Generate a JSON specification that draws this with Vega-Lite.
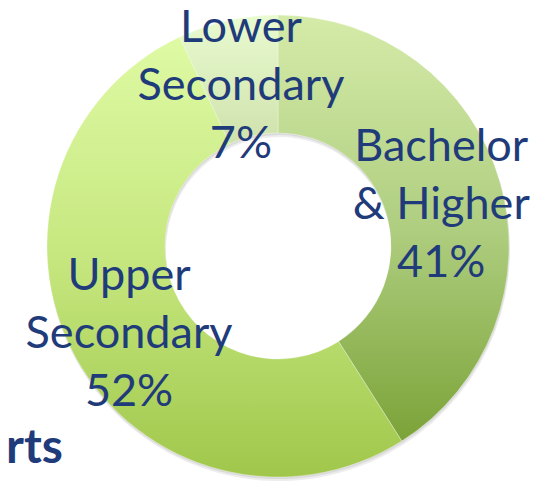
{
  "$schema": "https://vega.github.io/schema/vega-lite/v6.json",
  "width": 544,
  "height": 474,
  "autosize": {"type": "none"},
  "padding": {"left": 6, "top": 9, "right": 0, "bottom": 0},
  "background": "white",
  "config": {"view": {"stroke": null}},
  "title": {
    "text": "rts",
    "orient": "bottom",
    "anchor": "start",
    "frame": "group",
    "offset": -20,
    "baseline": "alphabetic",
    "dx": 0,
    "font": "Lato",
    "fontSize": 48,
    "fontWeight": "bold",
    "color": "#1f3b7a"
  },
  "data": {
    "values": [
      {"category": "Bachelor & Higher", "label": "Bachelor\n& Higher\n41%", "share": 41, "ord": 1},
      {"category": "Upper Secondary", "label": "Upper\nSecondary\n52%", "share": 52, "ord": 2},
      {"category": "Lower Secondary", "label": "Lower\nSecondary\n7%", "share": 7, "ord": 3}
    ]
  },
  "encoding": {
    "theta": {"field": "share", "type": "quantitative", "stack": true},
    "order": {"field": "ord", "type": "quantitative"}
  },
  "layer": [
    {
      "mark": {"type": "arc", "innerRadius": 113, "outerRadius": 231, "fill": "#6f6f6f", "opacity": 0.12, "xOffset": 1, "yOffset": 4}
    },
    {
      "mark": {"type": "arc", "innerRadius": 113, "outerRadius": 231, "fill": "#6f6f6f", "opacity": 0.15, "xOffset": 0.5, "yOffset": 2}
    },
    {
      "mark": {"type": "arc", "innerRadius": 113, "outerRadius": 231, "stroke": "#ffffff", "strokeWidth": 0.6, "strokeOpacity": 0.5},
      "encoding": {
        "fill": {
          "condition": [
            {
              "test": "datum.category === 'Bachelor & Higher'",
              "value": {"gradient": "linear", "x1": 0, "y1": 0, "x2": 0, "y2": 1,
                "stops": [{"offset": 0, "color": "#d5eba9"}, {"offset": 0.5, "color": "#afce80"}, {"offset": 1, "color": "#7ba338"}]}
            },
            {
              "test": "datum.category === 'Upper Secondary'",
              "value": {"gradient": "linear", "x1": 0, "y1": 0, "x2": 0, "y2": 1,
                "stops": [{"offset": 0, "color": "#defaa4"}, {"offset": 0.5, "color": "#c6e77f"}, {"offset": 1, "color": "#a0c74b"}]}
            }
          ],
          "value": {"gradient": "linear", "x1": 0, "y1": 0, "x2": 0, "y2": 1,
            "stops": [{"offset": 0, "color": "#e9fbd0"}, {"offset": 1, "color": "#cfe2ac"}]}
        }
      }
    },
    {
      "mark": {"type": "text", "radius": 170, "dy": -52, "lineBreak": "\n", "font": "Lato", "fontSize": 45, "lineHeight": 58, "color": "#1f3b7a", "align": "center", "baseline": "middle"},
      "encoding": {"text": {"field": "label", "type": "nominal"}}
    }
  ]
}
